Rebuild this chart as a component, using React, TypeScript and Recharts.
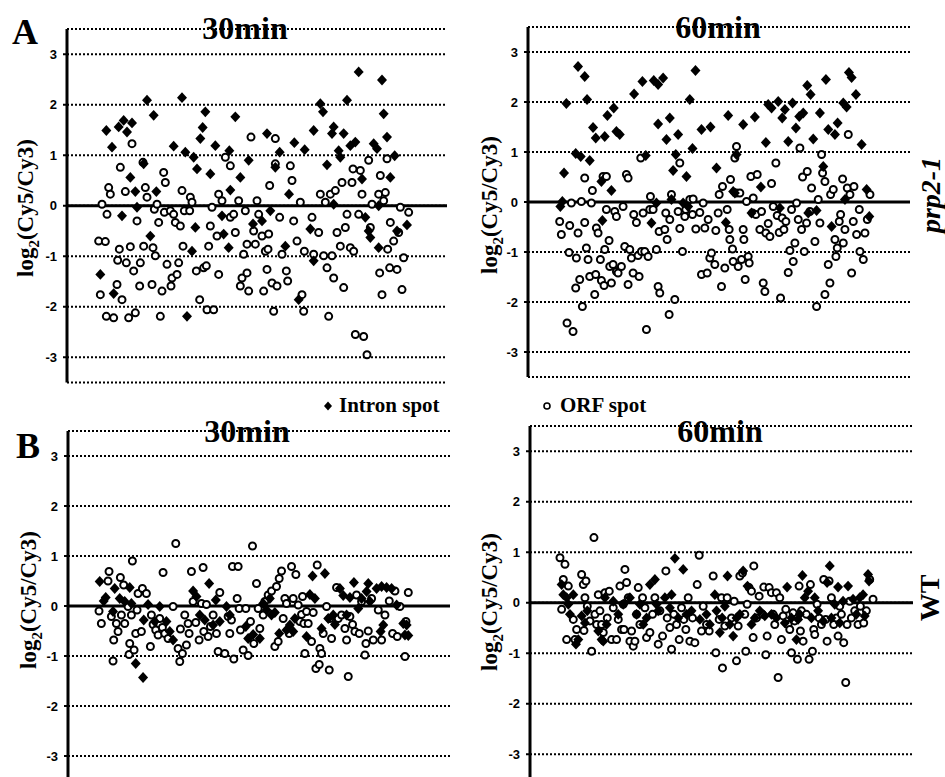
import React from "react";
import { ScatterChart, Scatter, XAxis, YAxis, CartesianGrid, ReferenceLine } from "recharts";

type Pt = [number, number];

// log2 ticks shared by all four panels
const yTicks = [-3, -2, -1, 0, 1, 2, 3];

// A (prp2-1), 30 min: [spot position, log2(Cy5/Cy3)]
const a30Intron: Pt[] = [
  [118,1.49],[135,1.16],[155,1.56],[170,1.69],[180,1.46],[195,1.64],[190,0.56],[205,0.28],[100,-1.36],[140,-1.74],
  [165,-0.2],[210,-0.03],[230,0.83],[240,2.09],[260,1.79],[268,0.28],[250,-0.6],[320,1.18],[345,2.14],[355,1.06],
  [380,0.96],[390,0.73],[360,-2.19],[375,-0.9],[400,1.33],[407,1.55],[415,1.86],[445,1.19],[385,-0.43],[430,0.63],
  [465,-0.2],[487,1.09],[490,0.31],[505,1.76],[520,0.56],[470,-0.56],[485,-0.83],[545,0.9],[558,-0.36],[585,-0.3],
  [610,-0.1],[600,1.43],[638,1.06],[625,0.76],[666,0.23],[682,1.25],[655,-0.8],[695,-1.86],[713,1.11],[730,-0.46],
  [740,-1.09],[760,2.02],[768,1.86],[740,1.49],[780,0.81],[795,1.43],[800,1.56],[820,0.96],[815,1.09],[830,1.43],
  [840,2.09],[850,1.19],[865,1.26],[875,2.65],[885,0.53],[895,-0.23],[905,-0.5],[910,-0.63],[920,1.23],[930,1.13],
  [935,-0.83],[945,2.49],[950,1.82],[960,1.36],[970,0.56],[983,0.99],[1020,-0.38],[990,-0.5],[800,0.03],[935,0],
];
const a30Orf: Pt[] = [
  [95,-0.7],[115,-0.71],[100,-1.76],[118,-2.19],[140,-2.22],[125,0.36],[130,0.23],[120,-0.17],[105,0.03],[150,-1.56],
  [152,-1.08],[157,-0.86],[160,0.76],[165,-1.86],[175,0.28],[178,-1.13],[185,-2.22],[190,-0.81],[195,1.23],[200,-1.29],
  [205,-2.12],[210,-0.3],[218,-1.59],[220,-1.13],[228,0.86],[235,0.36],[240,0.17],[230,-0.8],[255,-1.56],[258,-0.83],
  [262,-0.07],[265,-0.99],[270,0.03],[275,-0.33],[280,-2.19],[285,-1.69],[290,0.66],[295,0.46],[292,-0.13],[300,-1.16],
  [310,-0.1],[315,-1.43],[312,-1.59],[320,-0.17],[325,-0.33],[330,-1.36],[335,-1.13],[340,-0.4],[345,0.3],[348,-0.8],
  [352,-0.1],[368,-0.1],[370,0.17],[375,0.07],[388,-1.29],[398,-1.86],[410,-1.23],[418,-1.19],[420,-2.06],[440,-2.06],
  [430,-0.4],[435,-0.03],[425,-0.8],[455,-1.36],[450,-0.6],[455,0.23],[465,0.1],[475,0.96],[490,0.79],[490,-0.23],
  [500,-0.17],[505,-0.53],[515,0.1],[520,-1.59],[525,-1.43],[530,-0.96],[535,-0.1],[540,-1.33],[545,-1.69],[540,-0.76],
  [552,1.36],[560,-0.5],[565,-0.76],[570,0.1],[575,-0.17],[585,-0.6],[590,-1.69],[595,-0.9],[600,-1.26],[603,-0.86],
  [608,0.4],[605,-0.56],[620,-2.09],[615,-1.53],[625,1.33],[625,0.83],[630,-1.59],[638,-0.23],[645,-0.96],[658,-1.29],
  [662,-1.49],[670,0.79],[675,0.5],[680,-0.3],[690,-0.7],[700,0.07],[705,-1.76],[710,-2.09],[712,-0.9],[735,-0.23],
  [740,-0.96],[755,-0.53],[760,0.23],[770,-0.99],[775,0.07],[780,-1.23],[785,-2.19],[790,0.23],[795,-0.99],[800,-1.43],
  [805,0.3],[810,-0.53],[820,-0.8],[825,0.46],[830,-1.62],[835,-0.43],[840,-0.17],[850,-0.83],[855,0.46],[858,0.73],
  [860,-0.9],[865,-2.55],[875,-0.17],[880,0.7],[885,0.23],[890,-2.59],[900,-2.95],[905,0.9],[910,-0.43],[915,0.03],
  [935,0.23],[938,-1.33],[940,0.6],[945,-1.76],[950,0.1],[955,0.26],[960,0.93],[962,-0.86],[968,-1.23],[970,-0.33],
  [980,-0.7],[990,-1.26],[995,-0.53],[1000,-0.03],[1005,-1.66],[1010,-1.03],[1025,-0.13],
];

// A (prp2-1), 60 min
const a60Intron: Pt[] = [
  [115,1.97],[108,0.58],[97,-0.09],[103,0.01],[143,0.97],[158,0.91],[150,2.71],[170,2.51],[177,2.05],[185,0.83],
  [195,1.49],[203,1.28],[220,0.41],[230,1.31],[238,1.73],[257,1.88],[250,0.23],[265,1.41],[275,1.35],[223,-0.37],
  [318,2.16],[343,2.41],[353,0.93],[377,2.43],[390,2.35],[405,2.48],[390,1.56],[415,1.25],[425,1.68],[435,0.63],
  [443,0.95],[450,1.35],[475,0.51],[485,2.05],[493,1.07],[502,2.63],[520,1.45],[547,1.5],[370,-0.42],[385,-0.02],
  [430,0.05],[465,-0.02],[480,-0.09],[565,0.68],[593,-0.41],[600,1.73],[615,0.21],[625,0.95],[645,1.55],[680,1.7],
  [698,0.3],[713,1.19],[720,1.95],[730,1.88],[750,2.01],[762,1.68],[770,1.85],[780,1.21],[793,1.98],[803,1.48],
  [813,1.71],[825,1.78],[837,2.33],[847,2.15],[855,1.26],[875,1.78],[885,0.71],[893,2.45],[900,1.45],[910,-0.49],
  [920,1.35],[928,1.58],[945,1.98],[955,1.9],[962,2.59],[970,2.49],[983,2.15],[1000,1.15],[1015,0.25],[1023,-0.29],
  [950,0.05],[865,-0.17],[620,0.18],[840,-0.22],[670,-0.22],[755,-0.12],
];
const a60Orf: Pt[] = [
  [95,-0.39],[100,-0.65],[117,-2.42],[135,-2.59],[123,-1.01],[125,-0.47],[130,-0.02],[143,-1.72],[145,-1.12],[150,-0.62],
  [155,-1.55],[160,0.01],[163,-2.09],[170,0.48],[170,-0.41],[175,-0.92],[180,-1.15],[185,-1.49],[190,-0.02],[193,0.23],
  [200,-1.85],[203,-1.45],[205,-0.52],[210,-0.62],[217,-1.15],[220,-1.57],[225,0.51],[230,-0.95],[235,0.51],[228,-1.67],
  [235,-0.15],[243,-0.77],[245,-1.29],[250,-1.62],[255,-1.25],[260,-0.19],[265,-0.29],[265,-1.39],[270,-1.42],[280,-1.29],
  [285,-0.09],[290,-0.89],[295,0.55],[300,0.48],[300,-1.65],[305,-0.95],[310,-1.12],[315,-1.42],[317,-0.25],[325,-0.41],
  [330,-1.07],[333,-1.49],[338,0.88],[340,-0.99],[345,-0.22],[350,-0.99],[355,-2.55],[360,-1.09],[365,-0.15],[367,0.11],
  [375,-0.15],[385,-0.95],[390,-1.69],[395,-1.82],[393,-0.59],[410,-0.55],[413,-0.22],[417,-0.75],[423,-2.25],[425,-0.35],
  [430,0.15],[440,-1.95],[450,-0.19],[455,0.78],[455,-0.53],[463,-0.99],[470,-0.29],[473,-0.15],[485,0.05],[495,0.06],
  [493,-0.25],[503,-0.54],[515,-0.21],[520,-1.45],[525,-0.02],[530,-0.52],[537,-1.42],[540,-0.35],[545,-1.12],[550,-1.02],
  [560,-1.25],[563,-0.57],[570,-0.22],[573,0.15],[580,-1.69],[583,0.31],[590,-1.32],[597,-0.15],[603,-0.55],[605,-0.75],
  [607,0.45],[613,-0.94],[615,-1.19],[620,0.88],[625,1.11],[625,0.18],[630,-1.29],[635,0.18],[640,-1.15],[645,-0.55],
  [647,-0.75],[651,-1.55],[655,0.01],[660,-1.09],[663,-1.22],[668,0.51],[673,-0.22],[675,0.08],[683,-0.25],[687,0.55],
  [695,-0.55],[700,-0.19],[705,-1.62],[710,-1.79],[713,-0.62],[720,-0.43],[725,-0.69],[730,0.37],[735,-0.09],[743,0.78],
  [747,-0.27],[753,-0.61],[757,-1.92],[762,-0.32],[767,-0.55],[773,-0.39],[780,-1.41],[785,-0.97],[790,-0.15],[795,-1.19],
  [800,-0.82],[805,-0.02],[810,-0.35],[815,1.08],[820,-0.55],[823,0.5],[828,-0.99],[835,-0.42],[837,0.61],[845,-0.19],
  [850,0.28],[860,-0.79],[865,-2.09],[870,0.05],[875,-0.42],[880,0.95],[883,0.58],[890,0.41],[890,-1.85],[900,-1.25],
  [905,-1.62],[907,0.15],[915,0.25],[920,-0.75],[923,-1.09],[927,-0.92],[933,-0.39],[937,-0.25],[943,0.46],[945,-0.82],
  [950,-0.55],[957,0.28],[960,1.35],[965,0.15],[970,-1.42],[975,-0.39],[977,0.31],[985,-0.65],[993,-0.15],[995,-0.99],
  [1005,-1.15],[1010,-0.62],[1017,-0.35],[1025,0.15],
];

// B (WT), 30 min
const b30Intron: Pt[] = [
  [95,0.49],[113,0.17],[107,0.1],[140,0.35],[155,0.15],[170,0.09],[185,0.37],[190,0.05],[135,-0.11],[203,-1.15],
  [225,-1.43],[227,-0.28],[240,0.03],[260,-0.31],[275,-0.01],[295,-0.31],[305,-0.51],[315,-0.68],[375,0.3],[385,0.19],
  [395,-0.18],[410,-0.28],[423,0.45],[435,-0.38],[443,0.12],[455,-0.31],[475,-0.01],[485,-0.18],[533,-0.41],[540,-0.65],
  [555,-0.57],[575,-0.65],[585,0.05],[595,-0.08],[605,0.15],[610,-0.18],[620,-0.13],[633,-0.55],[655,-0.48],[665,-0.38],
  [675,-0.51],[680,-0.25],[725,0.23],[733,0.6],[740,0.15],[715,-0.61],[770,0.65],[760,-0.45],[780,-0.25],[795,-0.18],
  [800,-0.37],[825,0.21],[835,-0.18],[857,0.47],[845,0.17],[870,-0.05],[880,0.15],[895,0.29],[900,0.45],[905,0.09],
  [925,0.35],[940,0.39],[955,0.37],[937,-0.51],[945,-0.38],[970,0.35],[985,0.02],[1005,-0.35],[1015,-0.38],[1020,-0.59],
  [1010,-0.58],[815,0.35],
];
const b30Orf: Pt[] = [
  [93,-0.1],[100,-0.35],[123,0.69],[120,0.5],[130,-0.21],[135,-1.1],[137,-0.68],[145,-0.35],[150,-0.51],[157,0.57],
  [160,-0.18],[167,0.42],[170,-0.35],[180,-0.01],[183,-0.97],[185,-0.75],[190,-0.18],[193,0.9],[198,-0.88],[203,-0.55],
  [207,-0.08],[210,0.25],[220,-0.51],[223,0.35],[235,0.25],[247,-0.81],[250,-0.18],[255,-0.37],[263,-0.48],[270,-0.58],
  [275,-0.25],[283,-0.43],[285,0.67],[290,-0.55],[300,-0.65],[315,-0.01],[323,1.25],[330,-0.85],[335,-1.11],[337,-0.46],
  [343,-0.95],[350,-0.18],[355,-0.78],[360,-0.35],[363,-0.55],[370,0.69],[375,0.09],[383,-0.33],[393,-0.68],[400,0.05],
  [405,0.77],[407,-0.51],[415,0.03],[420,-0.61],[427,-0.41],[435,-0.18],[445,-0.55],[450,-0.91],[455,0.27],[470,-0.95],
  [480,-0.21],[490,-0.28],[493,0.79],[497,-1.06],[485,-0.55],[507,0.15],[510,0.79],[513,-0.05],[517,-0.48],[525,-0.88],
  [533,-0.05],[540,-0.99],[547,-0.31],[553,1.2],[557,-0.75],[565,0.45],[570,-0.05],[575,-0.45],[585,-0.18],[590,0.09],
  [600,0.22],[610,0.3],[620,-0.81],[625,0.39],[630,-0.71],[633,0.55],[640,0.7],[645,-0.25],[650,0.15],[655,0.05],
  [663,-0.55],[670,0.79],[675,0.15],[683,0.63],[690,0.02],[695,-0.31],[700,-0.17],[703,0.19],[707,-0.35],[710,-0.95],
  [715,-0.11],[720,-0.35],[730,-0.71],[735,-0.13],[743,-1.25],[747,0.82],[753,-1.17],[755,-0.85],[760,-0.95],[765,-0.55],
  [775,-0.01],[783,-1.28],[785,-0.25],[790,-0.65],[805,0.37],[810,-0.25],[820,-0.18],[830,-0.45],[835,-0.68],[840,-1.41],
  [845,-0.21],[853,-0.37],[860,-0.51],[865,0.22],[873,-0.55],[880,0.09],[890,-0.98],[893,-0.75],[900,-0.5],[910,0.15],
  [915,-0.68],[930,-0.08],[940,-0.68],[950,-0.18],[963,0.1],[973,-0.55],[980,0.3],[987,-0.61],[995,-0.01],[1010,-1.01],
  [1020,0.27],[1013,-0.31],
];

// B (WT), 60 min
const b60Intron: Pt[] = [
  [95,0.36],[100,0.16],[110,0.1],[115,-0.03],[120,-0.23],[130,0.16],[138,-0.82],[145,-0.73],[155,-0.26],[165,-0.4],
  [172,-0.16],[205,-0.56],[215,-0.73],[220,-0.76],[225,0.1],[230,-0.43],[250,0.03],[265,-0.23],[280,-0.03],[300,0.1],
  [320,-0.23],[330,-0.03],[340,-0.43],[350,-0.3],[360,0.36],[375,0.46],[380,-0.03],[385,-0.16],[405,0.1],[420,-0.1],
  [425,0.16],[435,0.88],[445,-0.3],[460,0.66],[470,-0.23],[485,-0.16],[510,-0.33],[530,-0.23],[540,-0.43],[555,0.16],
  [560,-0.16],[570,-0.59],[577,-0.3],[585,-0.07],[593,0.53],[600,-0.43],[610,-0.66],[620,-0.3],[630,-0.23],[640,0.63],
  [653,0.33],[665,-0.43],[675,-0.3],[690,-0.16],[705,-0.26],[725,-0.23],[740,-0.3],[765,-0.4],[772,0.31],[785,-0.3],
  [800,-0.73],[805,-0.33],[810,-0.23],[818,0.54],[825,0.1],[835,0.23],[845,-0.3],[855,0.1],[865,-0.16],[880,-0.36],
  [892,0.4],[900,0.73],[905,-0.3],[915,-0.03],[925,0.31],[930,-0.4],[940,0.03],[955,0.33],[970,0.07],[980,-0.23],
  [990,0.1],[1000,0.16],[1005,-0.26],[1015,0.56],[1018,0.43],
];
const b60Orf: Pt[] = [
  [90,0.89],[105,0.76],[100,0.46],[95,-0.13],[115,0.33],[110,-0.73],[130,-0.33],[135,-0.73],[140,-0.53],[155,0.56],
  [160,0.36],[168,0.43],[165,0.1],[162,-0.55],[172,-0.07],[180,-0.36],[185,-0.96],[192,1.29],[195,-0.23],[200,-0.43],
  [205,0.16],[210,-0.16],[215,-0.43],[220,-0.59],[225,0.2],[232,-0.3],[238,0.23],[245,-0.73],[250,-0.1],[260,-0.73],
  [265,-0.33],[270,0.33],[275,-0.53],[280,-0.03],[282,-0.53],[285,0.66],[290,0.4],[295,0.1],[300,-0.76],[305,-0.56],
  [310,-0.86],[315,-0.76],[320,-0.23],[325,0.3],[330,-0.43],[338,0.1],[345,-0.1],[350,-0.69],[360,-0.59],[368,-0.23],
  [375,0.1],[385,-0.82],[390,-0.16],[398,-0.66],[408,0.63],[412,-0.3],[420,-0.49],[425,-0.92],[432,-0.23],[440,-0.43],
  [448,-0.73],[455,-0.1],[462,-0.33],[468,-0.53],[475,0.1],[480,-0.76],[488,-0.3],[495,-0.79],[502,0.36],[508,0.94],
  [515,-0.56],[520,-0.07],[530,-0.43],[538,-0.56],[550,0.53],[558,-0.99],[568,-0.33],[575,0.1],[578,-1.29],[585,-0.46],
  [592,0.1],[605,-0.3],[613,0.03],[620,-1.15],[625,-0.46],[630,0.53],[638,0.59],[645,-0.23],[648,-0.96],[652,-0.03],
  [658,0.3],[665,0.23],[670,-0.69],[672,0.73],[680,-0.3],[688,0.13],[698,-0.23],[702,0.31],[708,-1.03],[712,-0.66],
  [718,0.3],[725,0.2],[730,-0.23],[735,-0.43],[740,0.2],[745,-1.48],[750,0.1],[755,-0.73],[760,-0.26],[768,-0.13],
  [775,-0.43],[780,-0.53],[785,-0.99],[790,-0.2],[795,-0.36],[803,-1.12],[808,0.33],[812,-0.56],[815,-0.16],[820,-0.76],
  [830,-0.23],[838,-1.12],[842,0.36],[848,-0.96],[852,-0.53],[855,-0.63],[862,-0.03],[868,-0.3],[875,-0.43],[882,0.46],
  [888,-0.33],[892,-0.76],[898,0.43],[905,0.1],[912,-0.43],[920,-0.3],[925,-0.66],[930,-0.07],[935,-0.23],[942,-0.79],
  [948,-1.58],[952,-0.43],[960,0.03],[965,-0.3],[975,-0.16],[985,-0.43],[992,-0.07],[1002,-0.4],[1010,-0.16],[1020,0.46],
  [1030,0.07],
];

const serif = "'Liberation Serif', 'Times New Roman', serif";
const sans = "'Liberation Sans', Arial, sans-serif";

const rows = (pts: Pt[]) => pts.map(([x, y]) => ({ x, y }));

function IntronMark(props: any) {
  const { cx, cy } = props;
  if (cx == null || cy == null) return null;
  return <path d={`M${cx},${cy - 5.4}L${cx + 5},${cy}L${cx},${cy + 5.4}L${cx - 5},${cy}Z`} fill="#000" />;
}

function OrfMark(props: any) {
  const { cx, cy } = props;
  if (cx == null || cy == null) return null;
  return <circle cx={cx} cy={cy} r={3.5} fill="#fff" stroke="#000" strokeWidth={2} />;
}

const YW = 40;

function Panel({ axisX, top3, unit, right, xMax, intron, orf }: {
  axisX: number; top3: number; unit: number; right: number; xMax: number; intron: Pt[]; orf: Pt[];
}) {
  const yTop = top3 - 0.5 * unit;
  const plotH = 7 * unit;
  const width = right - axisX + YW + 4;
  return (
    <div style={{ position: "absolute", left: axisX - YW, top: yTop - 5 }}>
      <ScatterChart width={width} height={plotH + 10} margin={{ top: 5, right: 4, bottom: 5, left: 0 }}>
        <CartesianGrid vertical={false} stroke="#000" strokeDasharray="2 2" strokeWidth={1.8} />
        <XAxis type="number" dataKey="x" domain={[0, xMax]} hide />
        <YAxis
          type="number" dataKey="y" domain={[-3.5, 3.5]} ticks={yTicks} interval={0} width={YW}
          axisLine={{ stroke: "#000", strokeWidth: 3 }} tickLine={{ stroke: "#000", strokeWidth: 2 }}
          tickSize={4} tickMargin={6}
          tick={{ fill: "#000", fontSize: 13, fontWeight: 700, fontFamily: sans }}
        />
        <ReferenceLine y={0} stroke="#000" strokeWidth={3.2} />
        <Scatter data={rows(orf)} shape={OrfMark} isAnimationActive={false} />
        <Scatter data={rows(intron)} shape={IntronMark} isAnimationActive={false} />
      </ScatterChart>
    </div>
  );
}

function Txt({ x, y, size, children, rotate = 0, italic = false }: any) {
  return (
    <div style={{
      position: "absolute", left: x, top: y, whiteSpace: "nowrap", fontFamily: serif, fontWeight: 700,
      fontStyle: italic ? "italic" : "normal", fontSize: size, lineHeight: 1, color: "#000",
      transform: `translate(-50%, -50%) rotate(${rotate}deg)`,
    }}>{children}</div>
  );
}

const yLabel = <>log<sub style={{ fontSize: "0.65em" }}>2</sub>(Cy5/Cy3)</>;

export default function App() {
  return (
    <div style={{ position: "absolute", left: 0, top: 0, width: 945, height: 777, background: "#fff", overflow: "hidden" }}>
      <Panel axisX={67} top3={54} unit={50.5} right={447} xMax={1140} intron={a30Intron} orf={a30Orf} />
      <Panel axisX={528} top3={52.3} unit={50} right={910} xMax={1145} intron={a60Intron} orf={a60Orf} />
      <Panel axisX={68} top3={456} unit={50} right={450} xMax={1145} intron={b30Intron} orf={b30Orf} />
      <Panel axisX={530} top3={451.7} unit={50.5} right={913} xMax={1150} intron={b60Intron} orf={b60Orf} />

      <Txt x={25} y={32} size={36}>A</Txt>
      <Txt x={28} y={446} size={36}>B</Txt>

      <Txt x={245} y={28} size={32}>30min</Txt>
      <Txt x={718} y={27} size={32}>60min</Txt>
      <Txt x={247} y={431} size={32}>30min</Txt>
      <Txt x={720} y={431} size={32}>60min</Txt>

      <Txt x={28} y={208} size={23} rotate={-90}>{yLabel}</Txt>
      <Txt x={492} y={205} size={23} rotate={-90}>{yLabel}</Txt>
      <Txt x={31} y={600} size={23} rotate={-90}>{yLabel}</Txt>
      <Txt x={492} y={602} size={23} rotate={-90}>{yLabel}</Txt>

      <Txt x={931} y={195} size={28} rotate={-90} italic>prp2-1</Txt>
      <Txt x={930} y={598} size={28} rotate={-90}>WT</Txt>

      <div style={{ position: "absolute", left: 322, top: 395, display: "flex", alignItems: "center", fontFamily: serif, fontWeight: 700, fontSize: 21, lineHeight: 1 }}>
        <svg width={12} height={12} style={{ marginRight: 5 }}><path d="M6,1.5L10,6L6,10.5L2,6Z" fill="#000" /></svg>
        Intron spot
      </div>
      <div style={{ position: "absolute", left: 541, top: 395, display: "flex", alignItems: "center", fontFamily: serif, fontWeight: 700, fontSize: 21, lineHeight: 1 }}>
        <svg width={12} height={12} style={{ marginRight: 7 }}><circle cx={6} cy={6} r={3} fill="#fff" stroke="#000" strokeWidth={1.6} /></svg>
        ORF spot
      </div>
    </div>
  );
}
